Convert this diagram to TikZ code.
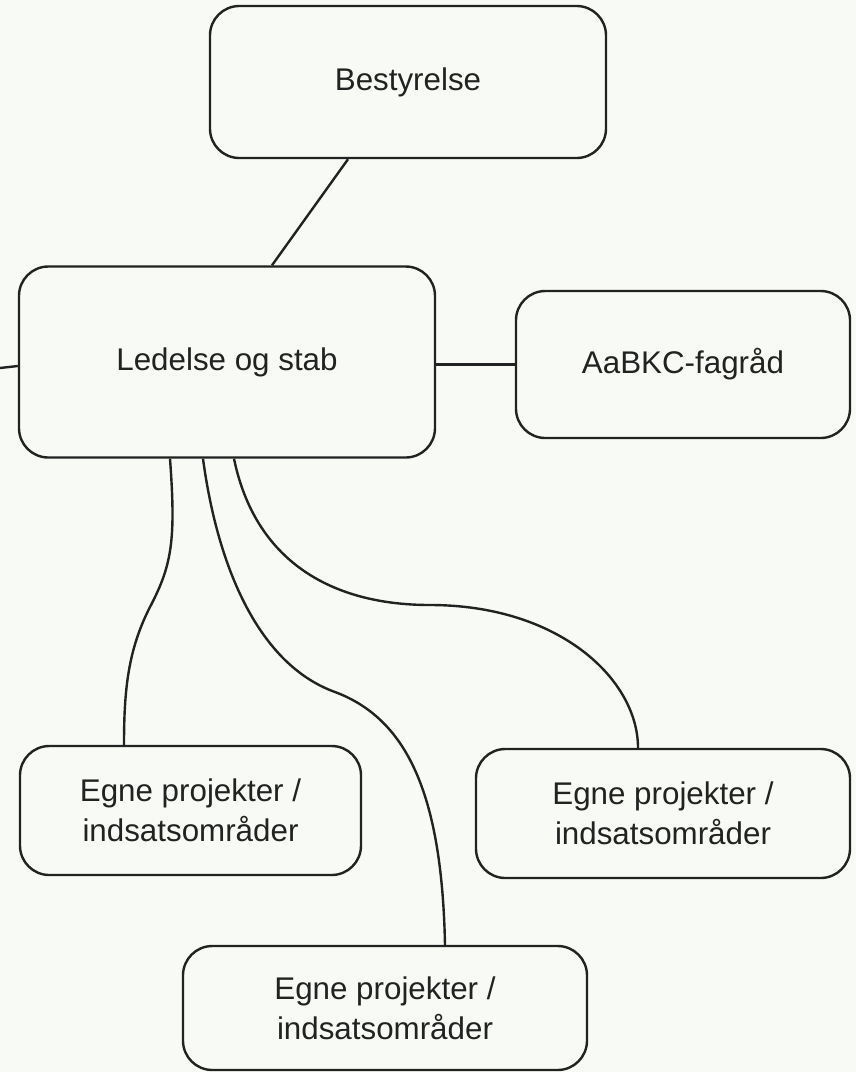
\documentclass[tikz,border=0pt]{standalone}
\usepackage{fontspec}
\setmainfont{Liberation Sans}
\usetikzlibrary{calc}
\definecolor{baggrund}{HTML}{F8FBF5}
\definecolor{streg}{HTML}{222222}
\begin{document}
\begin{tikzpicture}[x=0.75pt,y=-0.75pt,
  boks/.style={draw=streg,fill=baggrund,line width=1.8pt,rounded corners=22pt,
    inner sep=0pt,align=center,text=streg,font=\fontsize{23.5}{30}\selectfont},
  forb/.style={draw=streg,line width=1.8pt}]
  \fill [baggrund] (0,0) rectangle (856,1072);
  \useasboundingbox (0,0) rectangle (856,1072);
  \node [boks,minimum width=297pt,minimum height=114pt] (bestyrelse) at (408,82) {Bestyrelse};
  \node [boks,minimum width=312pt,minimum height=143.25pt] (ledelse) at (227,362) {Ledelse og stab};
  \node [boks,minimum width=250.5pt,minimum height=110.25pt] (fagraad) at (683,364.5) {AaBKC-fagråd};
  \node [boks,minimum width=255.75pt,minimum height=96.75pt] (egneV) at (190.5,810.5) {Egne projekter /\\indsatsområder};
  \node [boks,minimum width=280.5pt,minimum height=96.75pt] (egneH) at (663,813.5) {Egne projekter /\\indsatsområder};
  \node [boks,minimum width=303pt,minimum height=93pt] (egneB) at (385,1008) {Egne projekter /\\indsatsområder};
  \coordinate (venstre) at (0,368);
  \draw [forb] (venstre) -- ($(ledelse.west)+(0,4)$);
  \draw [forb] ($(bestyrelse.south)+(-60,0)$) -- ($(ledelse.north)+(45,0)$);
  \draw [forb] (ledelse.east |- fagraad.west) -- (fagraad.west);
  \draw [forb] ($(ledelse.south)+(-57,0)$) .. controls (176,540) and (172,565) .. (150,607)
    .. controls (128,650) and (124,690) .. ($(egneV.north)+(-66.5,0)$);
  \draw [forb] ($(ledelse.south)+(-24,0)$) .. controls (218,570) and (260,665) .. (335,692)
    .. controls (410,720) and (442,800) .. ($(egneB.north)+(60,0)$);
  \draw [forb] ($(ledelse.south)+(7,0)$) .. controls (255,560) and (330,605) .. (430,605)
    .. controls (560,605) and (638,680) .. ($(egneH.north)+(-25,0)$);
\end{tikzpicture}
\end{document}
